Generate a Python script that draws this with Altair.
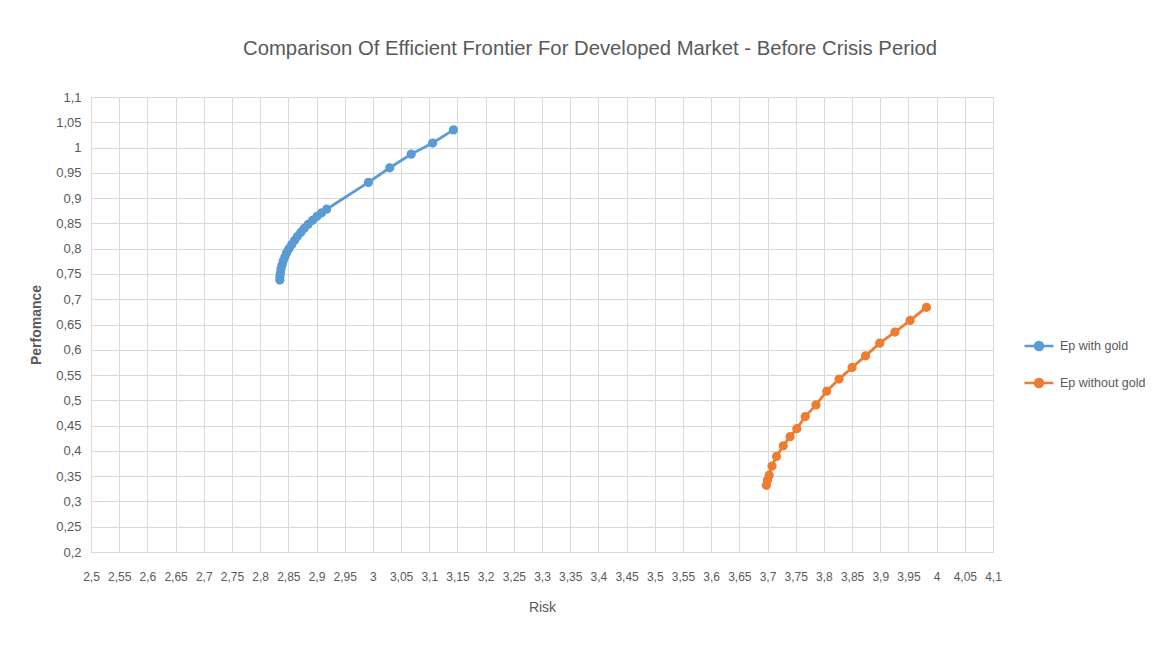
import altair as alt
import pandas as pd

# Ep with gold
gold_risk = [2.835, 2.835, 2.836, 2.837, 2.839, 2.841, 2.844, 2.847, 2.851, 2.856,
             2.861, 2.866, 2.872, 2.878, 2.885, 2.893, 2.901, 2.909, 2.918,
             2.992, 3.030, 3.068, 3.106, 3.143]
gold_perf = [0.738, 0.745, 0.752, 0.760, 0.768, 0.776, 0.784, 0.792, 0.800, 0.808,
             0.816, 0.824, 0.832, 0.840, 0.848, 0.856, 0.864, 0.871, 0.878,
             0.931, 0.960, 0.987, 1.009, 1.035]

# Ep without gold
nogold_risk = [3.698, 3.700, 3.703, 3.708, 3.716, 3.728, 3.740, 3.752, 3.767, 3.786,
               3.805, 3.827, 3.850, 3.874, 3.899, 3.926, 3.953, 3.982]
nogold_perf = [0.332, 0.342, 0.352, 0.370, 0.389, 0.410, 0.428, 0.444, 0.468, 0.491,
               0.518, 0.542, 0.565, 0.588, 0.613, 0.635, 0.658, 0.684]

series_names = ["Ep with gold", "Ep without gold"]
series_colors = ["#5B9BD5", "#ED7D31"]

x_ticks = [round(2.5 + 0.05 * i, 2) for i in range(33)]
y_ticks = [round(0.2 + 0.05 * i, 2) for i in range(19)]

rows = []
for i, (r, p) in enumerate(zip(gold_risk, gold_perf)):
    rows.append({"series": series_names[0], "risk": r, "perf": p, "order": i})
for i, (r, p) in enumerate(zip(nogold_risk, nogold_perf)):
    rows.append({"series": series_names[1], "risk": r, "perf": p, "order": i})
df = pd.DataFrame(rows)

FONT = "Liberation Sans, Arial, sans-serif"
GRAY = "#595959"
label_expr = "replace(format(datum.value, '.4~f'), '.', ',')"

legend_path = ("M-1,0H1M-0.28,0A0.28,0.28,0,1,1,0.28,0"
               "A0.28,0.28,0,1,1,-0.28,0Z")

x_enc = alt.X("risk:Q", title="Risk",
              scale=alt.Scale(domain=[2.5, 4.1], nice=False, zero=False),
              axis=alt.Axis(values=x_ticks, labelExpr=label_expr, labelPadding=19,
                            labelOverlap=False, labelFlush=False, labelFontSize=12,
                            titlePadding=18))
y_enc = alt.Y("perf:Q", title="Perfomance",
              scale=alt.Scale(domain=[0.2, 1.1], nice=False, zero=False),
              axis=alt.Axis(values=y_ticks, labelExpr=label_expr, labelPadding=10,
                            labelOverlap=False, labelFlush=False, titlePadding=12))

color_scale = alt.Scale(domain=series_names, range=series_colors)
legend = alt.Legend(
    orient="none", legendX=932, legendY=233,
    symbolType=legend_path, symbolSize=841,
    symbolStrokeWidth=2.5, rowPadding=11,
    labelFontSize=12.5, labelFont=FONT, labelColor=GRAY,
    labelOffset=5, title=None)

base = alt.Chart(df).encode(x=x_enc, y=y_enc, order="order:Q")

lines = base.mark_line(strokeWidth=2.8).encode(
    color=alt.Color("series:N", scale=color_scale, legend=legend, title=None),
)
points = base.mark_point(filled=True, size=60, opacity=1, strokeWidth=1.5).encode(
    color=alt.Color("series:N", scale=color_scale, legend=legend, title=None),
    stroke=alt.Stroke("series:N", scale=color_scale, legend=legend, title=None),
)

chart = alt.layer(lines, points).properties(
    width=902, height=455,
    title=alt.TitleParams(
        "Comparison Of Efficient Frontier For Developed Market - Before Crisis Period",
        anchor="middle", frame="group", dx=48, offset=32,
        fontSize=20.3, font=FONT, fontWeight="normal", color=GRAY),
    autosize=alt.AutoSizeParams(type="none"),
    padding={"left": 83, "top": 89, "right": 158, "bottom": 90},
).configure_axis(
    gridColor="#d9d9d9", domainColor="#d9d9d9", ticks=False,
    labelFont=FONT, labelFontSize=13, labelColor=GRAY,
    titleFont=FONT, titleFontSize=14, titleColor=GRAY, titleFontWeight="normal",
).configure_axisY(
    titleFontWeight="bold",
).configure_view(
    stroke="#d9d9d9",
)

chart.save("out.html", embed_options={"renderer": "svg", "actions": False})
